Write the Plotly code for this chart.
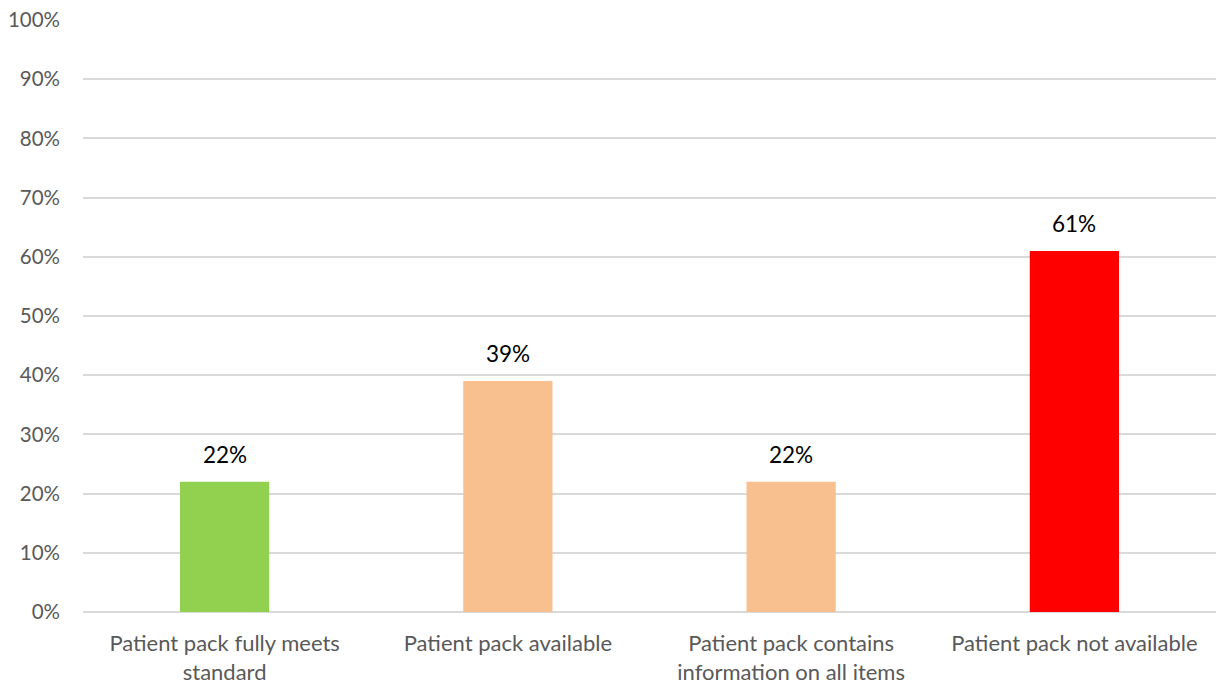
import plotly.graph_objects as go

categories = [
    "Patient pack fully meets<br>standard",
    "Patient pack available",
    "Patient pack contains<br>information on all items",
    "Patient pack not available",
]
values = [22, 39, 22, 61]
bar_colors = ["#92D050", "#F8C08F", "#F8C08F", "#FF0000"]
y_ticks = list(range(0, 101, 10))
y_tick_labels = [f"{t}%" for t in y_ticks]

FONT = "Lato"

fig = go.Figure(
    go.Bar(
        x=categories,
        y=values,
        marker=dict(color=bar_colors, line=dict(width=0)),
        hoverinfo="skip",
    )
)

# value labels sitting a little above each bar
for cat, val in zip(categories, values):
    fig.add_annotation(
        x=cat,
        y=val,
        text=f"{val}%",
        showarrow=False,
        yanchor="bottom",
        yshift=12,
        font=dict(family=FONT, size=22.5, color="#000000"),
    )

fig.update_layout(
    width=1216,
    height=685,
    margin=dict(l=83, r=0, t=20, b=71),
    paper_bgcolor="#FFFFFF",
    plot_bgcolor="#FFFFFF",
    bargap=0.685,
    showlegend=False,
)

fig.update_xaxes(
    showgrid=False,
    showline=False,
    zeroline=False,
    ticks="",
    ticklabelstandoff=16,
    tickfont=dict(family=FONT, size=22, color="#595959"),
)

fig.update_yaxes(
    range=[0, 100],
    tickvals=y_ticks,
    ticktext=y_tick_labels,
    showgrid=True,
    gridcolor="#D9D9D9",
    gridwidth=1.5,
    zeroline=True,
    zerolinecolor="#D9D9D9",
    zerolinewidth=1.5,
    showline=False,
    ticks="",
    ticklabelstandoff=22,
    tickfont=dict(family=FONT, size=20.5, color="#595959"),
)

fig.write_html("out.html")
